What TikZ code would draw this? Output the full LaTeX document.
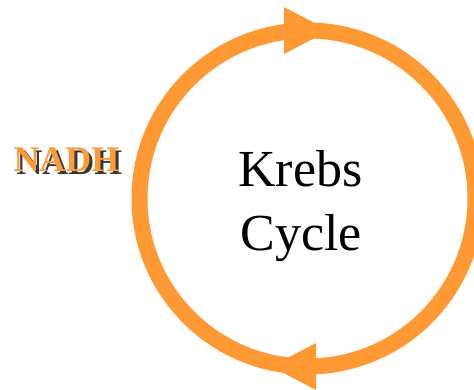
\documentclass[tikz,border=0pt]{standalone}
\usepackage{fontspec}
\setmainfont{Liberation Serif}
\definecolor{cycorange}{RGB}{255,153,51}
\definecolor{shadowgray}{RGB}{55,55,55}
\begin{document}
\begin{tikzpicture}[x=1pt,y=-1pt,
  ring/.style={draw=cycorange,line width=16pt},
  arrowhead/.style={fill=cycorange,draw=none},
  bigtext/.style={font=\fontsize{52}{62}\selectfont,anchor=base,inner sep=0pt},
  nadhtext/.style={font=\bfseries\fontsize{36}{43}\selectfont,anchor=base,inner sep=0pt}]
\useasboundingbox (0,0) rectangle (474,390);
\draw[ring] (307.5,198.5) circle[radius=168];
\fill[arrowhead] (284,7) -- (329,30.5) -- (284,54) -- cycle;
\fill[arrowhead] (316,343) -- (271,366.5) -- (316,390) -- cycle;
\node[bigtext] (krebs) at (300.5,187) {Krebs};
\node[bigtext] (cycle) at (301,251) {Cycle};
\node[nadhtext,text=shadowgray] (nadhshadow) at (69.5,175) {NADH};
\node[nadhtext,text=cycorange] (nadh) at (66.5,172) {NADH};
\end{tikzpicture}
\end{document}
